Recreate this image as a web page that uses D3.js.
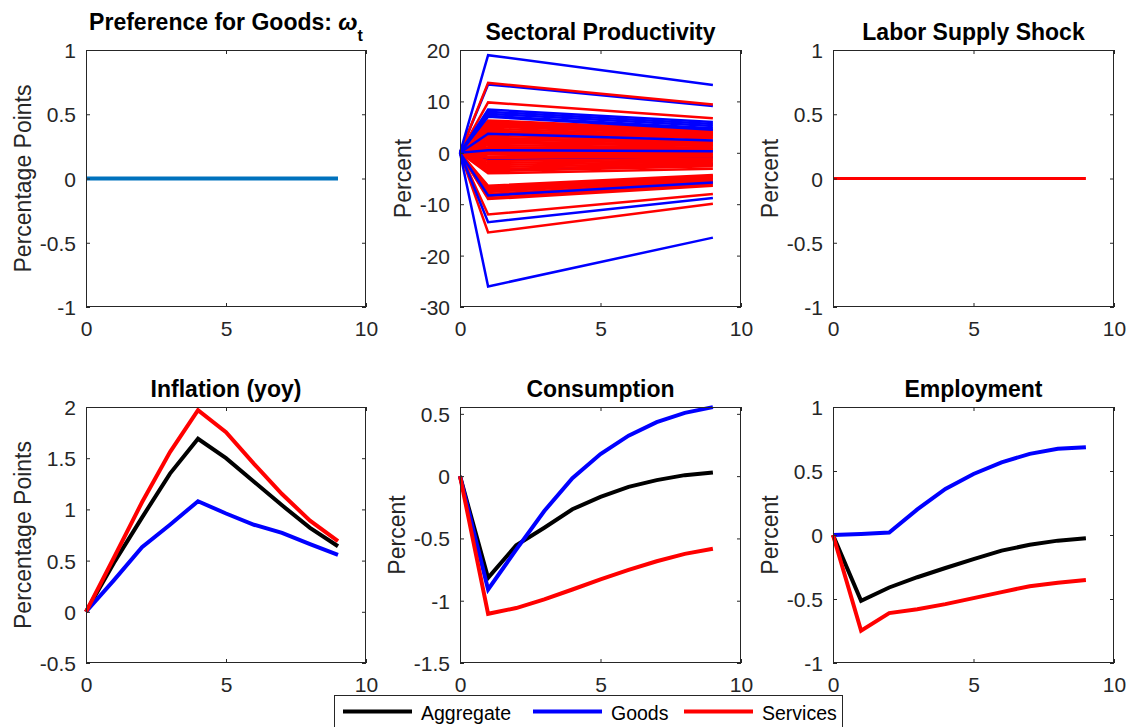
<!DOCTYPE html>
<html>
<head>
<meta charset="utf-8">
<script src="https://cdn.jsdelivr.net/npm/d3@7"></script>
<style>
  body { margin: 0; background: #fff; }
  svg { display: block; }
  text { font-family: "Liberation Sans", Arial, Helvetica, sans-serif; }
</style>
</head>
<body>
<svg id="fig" width="1129" height="727"></svg>
<script>
// ---- data -------------------------------------------------------------
const horizon = [0, 1, 2, 3, 4, 5, 6, 7, 8, 9];
const xTicks = [0, 5, 10];

const omegaPath   = [0, 0, 0, 0, 0, 0, 0, 0, 0, 0];
const laborSupply = [0, 0, 0, 0, 0, 0, 0, 0, 0, 0];

// sectoral productivity: impact (t=1) and value at t=9 for each sector
const goodsImpact    = [19.0, 13.3, 8.4, 8.0, 7.6, 7.2, 7.0, 3.7, 0.5, -1.35, -3.4, -8.3, -13.5, -26.0];
const goodsEnd       = [13.2,  9.1, 6.0, 5.6, 5.2, 4.8, 4.5, 2.4, 0.3, -0.9,  -2.3, -5.8,  -8.8, -16.5];
const servicesImpact = [13.6, 9.8, 6.3, 6.0, 5.7, 5.4, 5.1, 4.7, 4.3, 4.0, 3.3, 2.9, 2.6, 2.2, 1.9, 1.5, 1.1, 0.8, 0.2,
                        -0.3, -0.7, -1.0, -1.6, -2.0, -2.4, -2.8, -3.2, -3.6, -4.0,
                        -6.4, -6.7, -7.0, -7.3, -7.6, -8.0, -8.4, -8.8, -9.0, -12.0, -15.5];
const servicesEnd    = [9.4, 6.7, 4.4, 4.1, 3.9, 3.7, 3.5, 3.2, 3.0, 2.8, 2.3, 2.0, 1.8, 1.5, 1.3, 1.0, 0.8, 0.5, 0.1,
                        -0.2, -0.5, -0.7, -1.1, -1.4, -1.7, -2.0, -2.3, -2.6, -3.1,
                        -4.3, -4.5, -4.8, -5.0, -5.2, -5.5, -5.8, -6.1, -6.4, -8.0, -9.9];

const inflationAgg      = [0, 0.48, 0.92, 1.35, 1.69, 1.50, 1.27, 1.04, 0.82, 0.64];
const inflationGoods    = [0, 0.31, 0.63, 0.85, 1.08, 0.96, 0.85, 0.77, 0.66, 0.556];
const inflationServices = [0, 0.53, 1.07, 1.56, 1.97, 1.755, 1.445, 1.15, 0.89, 0.69];

const consumptionAgg      = [0, -0.817, -0.555, -0.414, -0.266, -0.167, -0.086, -0.032, 0.008, 0.03];
const consumptionGoods    = [0, -0.91, -0.59, -0.28, -0.016, 0.177, 0.325, 0.433, 0.508, 0.554];
const consumptionServices = [0, -1.105, -1.059, -0.99, -0.91, -0.828, -0.753, -0.683, -0.624, -0.583];

const employmentAgg      = [0, -0.514, -0.41, -0.33, -0.258, -0.188, -0.122, -0.076, -0.044, -0.026];
const employmentGoods    = [0, 0.008, 0.02, 0.2, 0.36, 0.477, 0.568, 0.634, 0.673, 0.686];
const employmentServices = [0, -0.748, -0.61, -0.58, -0.54, -0.493, -0.446, -0.40, -0.373, -0.352];

const legendLabels = ["Aggregate", "Goods", "Services"];

// ---- styling / layout ---------------------------------------------------
const C = { agg: "#000000", goods: "#0000ff", services: "#ff0000", omega: "#0072bd", axis: "#262626" };
const colors = [C.agg, C.goods, C.services];
const colsX = [[86, 366], [460, 741], [833, 1114]];
const rowsY = [[50, 307], [407, 663]];
const tickFont = 21, labelFont = 23, titleFont = 23, legendFont = 19.5;
// goods sectors plotted before the services lines (they sit underneath)
const goodsPlottedFirst = [1, 9, 10];

const svg = d3.select("#fig");
const fmt = v => String(v);

function hor(vals) { return vals.map((v, i) => [horizon[i], v]); }

function panel(col, row, cfg) {
  const [x0, x1] = colsX[col], [y0, y1] = rowsY[row];
  const x = d3.scaleLinear().domain([0, 10]).range([x0, x1]);
  const y = d3.scaleLinear().domain(cfg.yDomain).range([y1, y0]);
  const g = svg.append("g");

  // data lines
  const line = d3.line().x(d => x(d[0])).y(d => y(d[1]));
  cfg.series.forEach(s => {
    g.append("path").attr("d", line(s.pts)).attr("fill", "none")
      .attr("stroke", s.color).attr("stroke-width", s.width)
      .attr("stroke-linejoin", "miter").attr("stroke-miterlimit", 3);
  });

  // axes, ticks inward and mirrored on the top/right edges
  const tl = -4;
  const ax = (gen, tx, ty) => g.append("g").attr("transform", `translate(${tx},${ty})`).call(gen);
  const bottom = ax(d3.axisBottom(x).tickValues(xTicks).tickFormat(fmt).tickSizeInner(tl).tickSizeOuter(0).tickPadding(14), 0, y1);
  const top    = ax(d3.axisTop(x).tickValues(xTicks).tickFormat("").tickSizeInner(tl).tickSizeOuter(0), 0, y0);
  const left   = ax(d3.axisLeft(y).tickValues(cfg.yTicks).tickFormat(fmt).tickSizeInner(tl).tickSizeOuter(0).tickPadding(14), x0, 0);
  const right  = ax(d3.axisRight(y).tickValues(cfg.yTicks).tickFormat("").tickSizeInner(tl).tickSizeOuter(0), x1, 0);
  [bottom, top, left, right].forEach(a => {
    a.select(".domain").remove();
    a.selectAll("line").attr("stroke", C.axis).attr("stroke-width", 1);
    a.selectAll("text").attr("fill", C.axis).attr("font-size", tickFont)
      .attr("font-family", '"Liberation Sans", Arial, sans-serif');
  });
  bottom.selectAll("text").attr("dy", null).attr("y", 29).attr("dominant-baseline", "alphabetic");
  left.selectAll("text").attr("x", -10).attr("dy", "0.36em");

  g.append("rect").attr("x", x0 + 0.5).attr("y", y0 + 0.5)
    .attr("width", x1 - x0 - 1).attr("height", y1 - y0 - 1)
    .attr("fill", "none").attr("stroke", C.axis).attr("stroke-width", 1);

  // y label placed left of the widest tick label
  let maxW = 0;
  left.selectAll("text").each(function () { maxW = Math.max(maxW, this.getComputedTextLength()); });
  const lx = x0 - 10 - maxW - 9, ly = (y0 + y1) / 2;
  g.append("text").attr("transform", `translate(${lx},${ly}) rotate(-90)`)
    .attr("text-anchor", "middle").attr("font-size", labelFont).attr("fill", C.axis)
    .text(cfg.ylabel);

  // title
  const t = g.append("text").attr("x", (x0 + x1) / 2).attr("y", cfg.sub ? y0 - 20.5 : y0 - 10)
    .attr("text-anchor", "middle").attr("font-size", titleFont).attr("font-weight", "bold").attr("fill", "#000");
  t.append("tspan").text(cfg.title);
  if (cfg.sub) {
    t.append("tspan").attr("font-style", "italic").text(cfg.sub[0]);
    t.append("tspan").attr("font-size", 16).attr("dy", 11).text(cfg.sub[1]);
  }
}

// ---- panels -------------------------------------------------------------
panel(0, 0, {
  title: "Preference for Goods: ", sub: ["\u03c9", "t"], ylabel: "Percentage Points",
  yDomain: [-1, 1], yTicks: [-1, -0.5, 0, 0.5, 1],
  series: [{ pts: hor(omegaPath), color: C.omega, width: 4 }]
});

const goodsLine = i => ({ pts: [[0, 0], [1, goodsImpact[i]], [9, goodsEnd[i]]], color: C.goods, width: 2.5 });
const sectorSeries = [];
goodsPlottedFirst.forEach(i => sectorSeries.push(goodsLine(i)));
servicesImpact.forEach((v, i) => sectorSeries.push({ pts: [[0, 0], [1, v], [9, servicesEnd[i]]], color: C.services, width: 2.5 }));
goodsImpact.forEach((v, i) => { if (!goodsPlottedFirst.includes(i)) sectorSeries.push(goodsLine(i)); });
panel(1, 0, {
  title: "Sectoral Productivity", ylabel: "Percent",
  yDomain: [-30, 20], yTicks: [-30, -20, -10, 0, 10, 20],
  series: sectorSeries
});

panel(2, 0, {
  title: "Labor Supply Shock", ylabel: "Percent",
  yDomain: [-1, 1], yTicks: [-1, -0.5, 0, 0.5, 1],
  series: [{ pts: hor(laborSupply), color: C.services, width: 3 }]
});

panel(0, 1, {
  title: "Inflation (yoy)", ylabel: "Percentage Points",
  yDomain: [-0.5, 2], yTicks: [-0.5, 0, 0.5, 1, 1.5, 2],
  series: [inflationAgg, inflationGoods, inflationServices].map((s, i) => ({ pts: hor(s), color: colors[i], width: 4 }))
});

panel(1, 1, {
  title: "Consumption", ylabel: "Percent",
  yDomain: [-1.5, 0.555], yTicks: [-1.5, -1, -0.5, 0, 0.5],
  series: [consumptionAgg, consumptionGoods, consumptionServices].map((s, i) => ({ pts: hor(s), color: colors[i], width: 4 }))
});

panel(2, 1, {
  title: "Employment", ylabel: "Percent",
  yDomain: [-1, 1], yTicks: [-1, -0.5, 0, 0.5, 1],
  series: [employmentAgg, employmentGoods, employmentServices].map((s, i) => ({ pts: hor(s), color: colors[i], width: 4 }))
});

// ---- legend -------------------------------------------------------------
const lg = svg.append("g");
lg.append("rect").attr("x", 334.5).attr("y", 695.5).attr("width", 508).attr("height", 40)
  .attr("fill", "#fff").attr("stroke", C.axis).attr("stroke-width", 1);
const itemX = [343, 533, 684];
legendLabels.forEach((lab, i) => {
  lg.append("line").attr("x1", itemX[i]).attr("x2", itemX[i] + 69).attr("y1", 711.5).attr("y2", 711.5)
    .attr("stroke", colors[i]).attr("stroke-width", 4);
  lg.append("text").attr("x", itemX[i] + 78).attr("y", 719.5).attr("font-size", legendFont)
    .attr("fill", "#000").text(lab);
});
</script>
</body>
</html>
